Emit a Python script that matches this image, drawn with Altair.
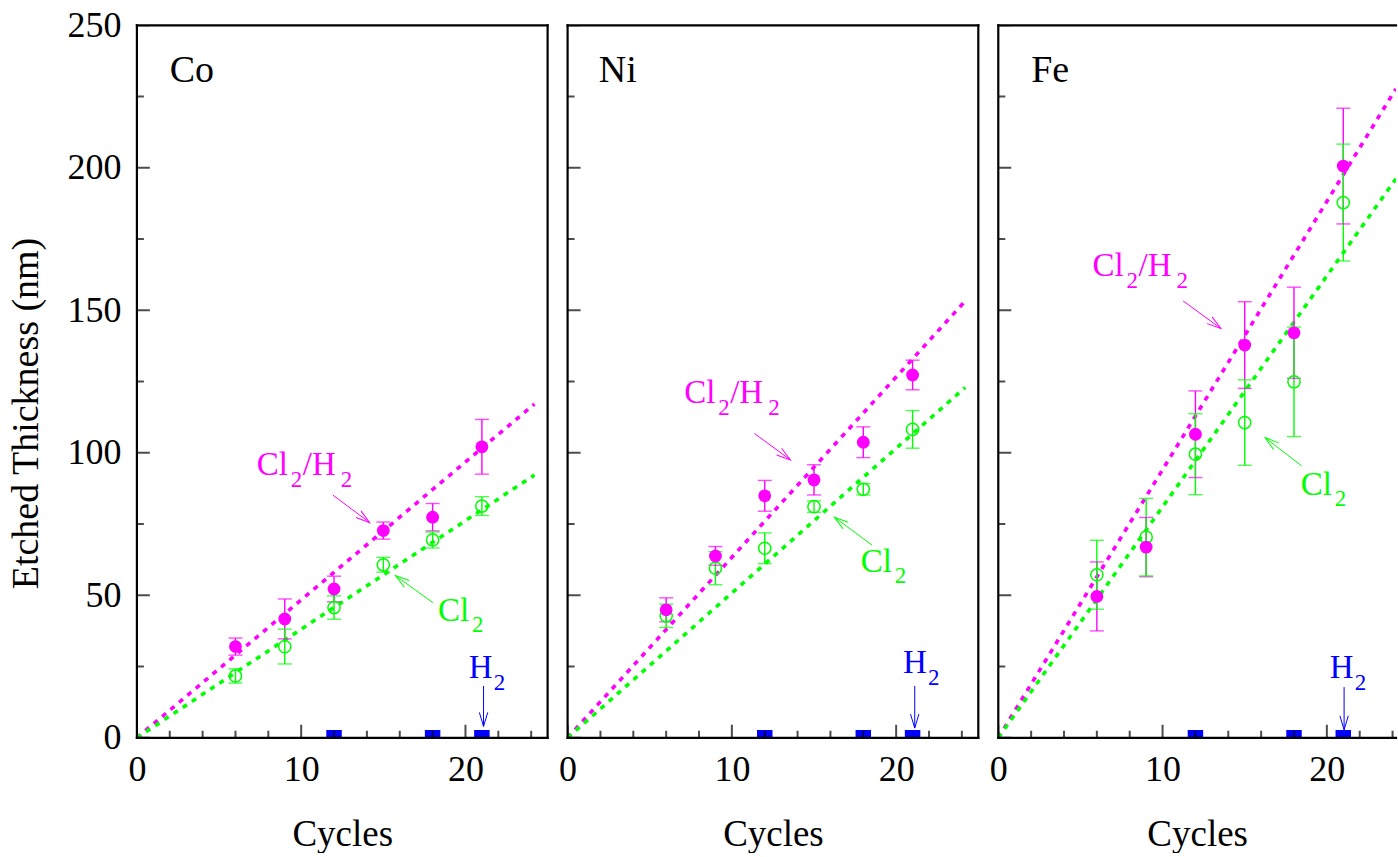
import math
import altair as alt
import pandas as pd

# ---------------- data ----------------
cycles = [6, 9, 12, 15, 18, 21]

co_clh2 = [32.0, 41.7, 52.2, 72.7, 77.4, 102.1]
co_clh2_err = [3.0, 7.0, 4.5, 3.0, 4.8, 9.6]
co_cl2 = [21.7, 32.0, 45.7, 60.7, 69.4, 81.3]
co_cl2_err = [2.5, 6.1, 4.1, 2.6, 2.8, 3.3]

ni_clh2 = [44.9, 63.8, 84.9, 90.5, 103.7, 127.3]
ni_clh2_err = [4.2, 3.3, 5.4, 5.3, 5.4, 5.2]
ni_cl2 = [42.8, 59.5, 66.5, 81.1, 87.2, 108.2]
ni_cl2_err = [4.1, 5.8, 5.4, 2.0, 2.0, 6.6]

fe_clh2 = [49.6, 66.9, 106.5, 137.8, 142.1, 200.6]
fe_clh2_err = [12.1, 10.4, 15.2, 15.2, 16.0, 20.3]
fe_cl2 = [57.2, 70.4, 99.5, 110.6, 124.9, 187.8]
fe_cl2_err = [12.1, 13.6, 14.2, 15.0, 19.2, 20.5]

h2_cycles = [12, 18, 21]          # H2-only runs (about zero thickness)
h2_values = [0, 0, 0]

fit_cycles = [0, 24.2]
co_fit_clh2 = [0, 117.1]
co_fit_cl2 = [0, 92.2]
ni_fit_clh2 = [0, 153.2]
ni_fit_cl2 = [0, 122.9]
fe_fit_clh2 = [0, 227.7]
fe_fit_cl2 = [0, 196.1]

x_major = [0, 10, 20]
x_minor = [2, 4, 6, 8, 12, 14, 16, 18, 22, 24]
y_major = [0, 50, 100, 150, 200, 250]
y_minor = [25, 75, 125, 175, 225]

# annotation anchors in data units (cycles, nm)
annotations = {
    "Co": dict(name=(2.0, 230.0), clh2=(7.3, 92.2), clh2_arrow=(11.92, 85.2, 14.17, 75.5),
               cl2=(18.33, 40.8), cl2_arrow=(18.02, 47.4, 15.74, 56.9),
               h2=(20.2, 20.9), h2_arrow=(21.1, 18.2, 21.1, 4.0)),
    "Ni": dict(name=(1.9, 230.0), clh2=(7.1, 117.6), clh2_arrow=(11.37, 106.8, 13.56, 97.5),
               cl2=(17.85, 58.0), cl2_arrow=(18.53, 67.6, 16.24, 77.4),
               h2=(20.42, 22.7), h2_arrow=(21.13, 18.2, 21.13, 3.4)),
    "Fe": dict(name=(2.0, 230.0), clh2=(5.74, 162.0), clh2_arrow=(11.25, 153.3, 13.55, 143.6),
               cl2=(18.41, 85.2), cl2_arrow=(18.47, 95.4, 16.24, 105.3),
               h2=(20.18, 20.9), h2_arrow=(21.05, 17.8, 21.05, 2.8)),
}

# ---------------- style ----------------
MAGENTA = "#ff00ff"
GREEN = "#00ff00"
BLUE = "#0000ff"
FONT = "Liberation Serif, Times New Roman, Times, serif"
H = 713
W = 411
XMAX = 25.0
PX_PER_CYCLE = W / XMAX
PX_PER_NM = H / 250.0
ARROW_PATH = "M -0.3 -1 L 0 0 L 0.3 -1"


def series_df(vals, errs, name):
    return pd.DataFrame({"cycle": cycles, "value": vals, "err": errs, "series": name})


def panel(metal, width, clh2, clh2e, cl2, cl2e, fclh2, fcl2, first, right_border):
    xmax = width / PX_PER_CYCLE
    xs = alt.Scale(domain=[0, xmax], nice=False, zero=False)
    ys = alt.Scale(domain=[0, 250], nice=False, zero=False)
    xaxis = alt.Axis(values=x_major, title="Cycles", ticks=False, tickSize=0, domain=False,
                     grid=False, labelFontSize=36, titleFontSize=37, labelPadding=15,
                     titlePadding=29, format="d", labelFlush=False, labelOverlap=False)
    if first:
        yaxis = alt.Axis(values=y_major, title="Etched Thickness (nm)", ticks=False, tickSize=0,
                         domain=False, grid=False, labelFontSize=36, titleFontSize=38,
                         labelPadding=16, titlePadding=21, format="d", labelFlush=False,
                         labelOverlap=False, titleY=388)
    else:
        yaxis = None

    cmap = alt.Scale(domain=["Cl2/H2", "Cl2"], range=[MAGENTA, GREEN])

    fit = pd.concat([
        pd.DataFrame({"cycle": fit_cycles, "value": fclh2, "series": "Cl2/H2"}),
        pd.DataFrame({"cycle": fit_cycles, "value": fcl2, "series": "Cl2"}),
    ])
    pts = pd.concat([series_df(clh2, clh2e, "Cl2/H2"), series_df(cl2, cl2e, "Cl2")])

    X = lambda f: alt.X(f, scale=xs, axis=xaxis)
    Y = lambda f: alt.Y(f, scale=ys, axis=yaxis)

    layers = []
    layers.append(alt.Chart(fit).mark_line(strokeDash=[5, 6], strokeWidth=3.6, clip=True).encode(
        x=X("cycle:Q"), y=Y("value:Q"),
        color=alt.Color("series:N", scale=cmap, legend=None),
        detail="series:N"))

    eb = alt.Chart(pts).transform_calculate(lo="datum.value - datum.err", hi="datum.value + datum.err")
    layers.append(eb.mark_rule(strokeWidth=1.4).encode(
        x=X("cycle:Q"), y=Y("lo:Q"), y2="hi:Q",
        color=alt.Color("series:N", scale=cmap, legend=None)))
    for f in ["lo:Q", "hi:Q"]:
        layers.append(eb.mark_tick(orient="horizontal", size=14, thickness=1.4).encode(
            x=X("cycle:Q"), y=Y(f), color=alt.Color("series:N", scale=cmap, legend=None)))

    layers.append(alt.Chart(series_df(cl2, cl2e, "Cl2")).mark_point(
        filled=False, size=150, strokeWidth=1.5, color=GREEN, opacity=1).encode(
        x=X("cycle:Q"), y=Y("value:Q")))
    layers.append(alt.Chart(series_df(clh2, clh2e, "Cl2/H2")).mark_point(
        filled=True, size=165, color=MAGENTA, opacity=1).encode(
        x=X("cycle:Q"), y=Y("value:Q")))

    # H2 markers
    layers.append(alt.Chart(pd.DataFrame({"cycle": h2_cycles, "value": h2_values})).mark_square(
        size=240, color=BLUE, opacity=1, clip=True).encode(x=X("cycle:Q"), y=Y("value:Q")))

    # inward ticks
    for vals, size in [(x_major, 26), (x_minor, 14)]:
        layers.append(alt.Chart(pd.DataFrame({"t": vals, "z": [0] * len(vals)})).mark_tick(
            orient="vertical", size=size, thickness=2, color="black", clip=True).encode(
            x=X("t:Q"), y=Y("z:Q")))
    for vals, size in [(y_major, 26), (y_minor, 14)]:
        layers.append(alt.Chart(pd.DataFrame({"t": vals, "z": [0] * len(vals)})).mark_tick(
            orient="horizontal", size=size, thickness=2, color="black", clip=True).encode(
            y=Y("t:Q"), x=X("z:Q")))

    # frame
    frame = [(0, 0, 0, 250), (0, xmax, 0, 0), (0, xmax, 250, 250)]
    if right_border:
        frame.append((xmax, xmax, 0, 250))
    fdf = pd.DataFrame(frame, columns=["xa", "xb", "ya", "yb"])
    layers.append(alt.Chart(fdf).mark_rule(strokeWidth=2.2, color="black", strokeCap="square").encode(
        x=X("xa:Q"), x2="xb:Q", y=Y("ya:Q"), y2="yb:Q"))

    ann = annotations[metal]

    def text_piece(pos, text, dx, dy, size, color):
        return alt.Chart(pd.DataFrame({"c": [pos[0]], "v": [pos[1]]})).mark_text(
            text=text, dx=dx, dy=dy, align="left", baseline="alphabetic", font=FONT,
            fontSize=size, color=color).encode(x=X("c:Q"), y=Y("v:Q"))

    def arrow(a, color):
        c1, v1, c2, v2 = a
        dxp = (c2 - c1) * PX_PER_CYCLE
        dyp = -(v2 - v1) * PX_PER_NM
        ang = math.degrees(math.atan2(-dxp, dyp)) % 360
        d = pd.DataFrame({"c1": [c1], "v1": [v1], "c2": [c2], "v2": [v2]})
        shaft = alt.Chart(d).mark_rule(strokeWidth=1, color=color).encode(
            x=X("c1:Q"), y=Y("v1:Q"), x2="c2:Q", y2="v2:Q")
        head = alt.Chart(d).mark_point(shape=ARROW_PATH, size=784, filled=False, strokeWidth=1,
                                       color=color, opacity=1, angle=ang).encode(
            x=X("c2:Q"), y=Y("v2:Q"))
        return [shaft, head]

    layers.append(text_piece(ann["name"], metal, 0, 0, 38, "black"))
    for t, dx, dy, sz in [("Cl", 0, 0, 33), ("2", 34, 12, 23), ("/H", 46, 0, 33), ("2", 84, 12, 23)]:
        layers.append(text_piece(ann["clh2"], t, dx, dy, sz, MAGENTA))
    layers += arrow(ann["clh2_arrow"], MAGENTA)
    for t, dx, dy, sz in [("Cl", 0, 0, 33), ("2", 34, 11, 23)]:
        layers.append(text_piece(ann["cl2"], t, dx, dy, sz, GREEN))
    layers += arrow(ann["cl2_arrow"], GREEN)
    for t, dx, dy, sz in [("H", 0, 0, 33), ("2", 25, 12, 23)]:
        layers.append(text_piece(ann["h2"], t, dx, dy, sz, BLUE))
    layers += arrow(ann["h2_arrow"], BLUE)

    return alt.layer(*layers).properties(width=width, height=H)


p1 = panel("Co", W, co_clh2, co_clh2_err, co_cl2, co_cl2_err, co_fit_clh2, co_fit_cl2, True, True)
p2 = panel("Ni", W, ni_clh2, ni_clh2_err, ni_cl2, ni_cl2_err, ni_fit_clh2, ni_fit_cl2, False, True)
p3 = panel("Fe", 398, fe_clh2, fe_clh2_err, fe_cl2, fe_cl2_err, fe_fit_clh2, fe_fit_cl2, False, False)

chart = alt.hconcat(p1, p2, p3, spacing=20, bounds="flush").properties(
    padding={"left": 8, "top": 7, "right": 0, "bottom": 0},
    background="white",
).configure_view(stroke=None).configure_axis(
    labelFont=FONT, titleFont=FONT, labelColor="black", titleColor="black",
    titleFontWeight="normal")

chart.save("out.html", embed_options={"renderer": "svg", "actions": False})
